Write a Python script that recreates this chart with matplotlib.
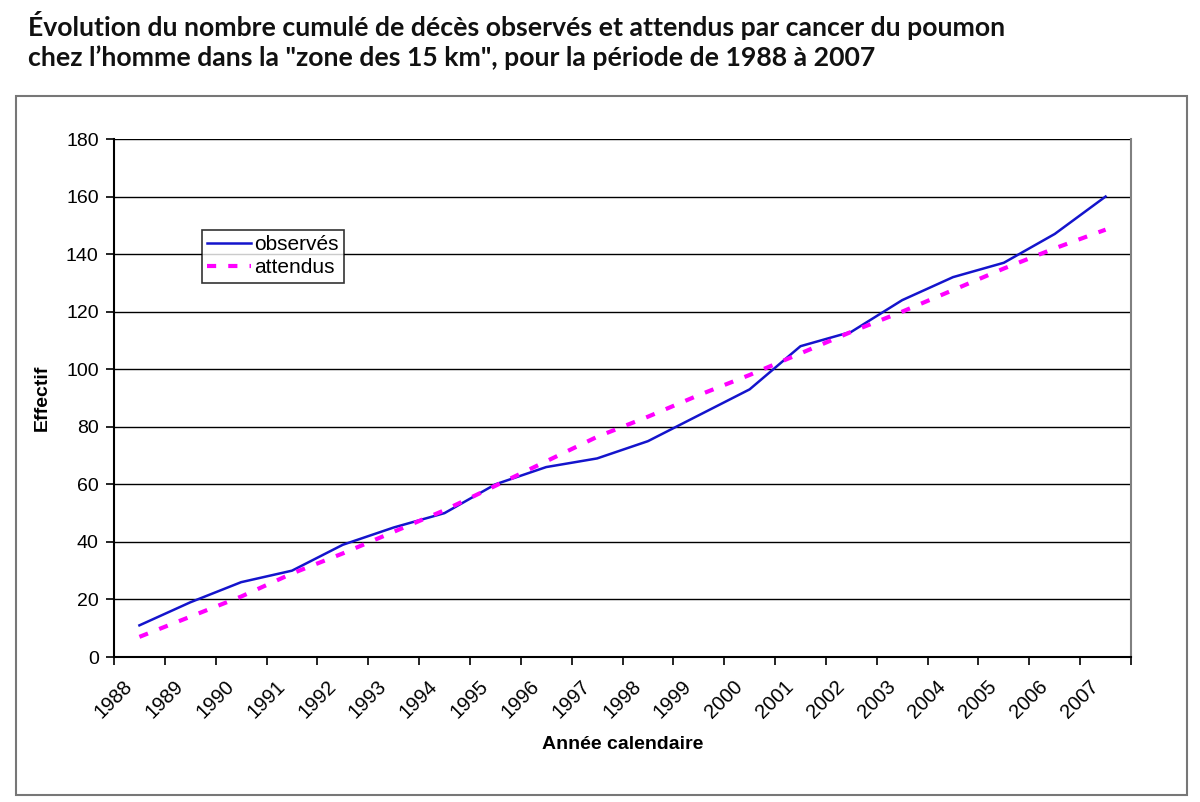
import matplotlib
matplotlib.use("Agg")
import matplotlib.pyplot as plt
from matplotlib.patches import Rectangle
from matplotlib.transforms import ScaledTranslation
import numpy as np

# Données
annees = [str(a) for a in range(1988, 2008)]
observes = [11, 19, 26, 30, 39, 45, 50, 60, 66, 69,
            75, 84, 93, 108, 113, 124, 132, 137, 147, 160]
attendus = [7, 14, 21, 29, 36, 43.5, 51, 59.5, 68, 76.5,
            83.5, 91, 98, 105.5, 113, 120, 127.5, 135, 142, 148.5]
graduations_y = list(range(0, 181, 20))

titre = ("Évolution du nombre cumulé de décès observés et attendus par cancer du poumon\n"
         "chez l’homme dans la \"zone des 15 km\", pour la période de 1988 à 2007")

plt.rcParams['font.family'] = ['Liberation Sans', 'DejaVu Sans']

fig = plt.figure(figsize=(12, 8.02), dpi=100)
ax = fig.add_axes([114/1200, 1 - 657/802, 1017/1200, 518/802])

x = np.arange(len(annees))
ax.plot(x, observes, color='#1414CC', lw=1.8, label='observés')
ax.plot(x, attendus, color='#FF00FF', lw=3, dashes=(2.2, 2.9), label='attendus')

ax.set_xlim(-0.5, len(annees) - 0.5)
ax.set_ylim(0, 180)
ax.set_yticks(graduations_y)
ax.yaxis.grid(True, color='black', lw=1)
ax.set_axisbelow(True)

# graduations entre les catégories, étiquettes au centre
ax.set_xticks(x)
ax.set_xticklabels(annees, rotation=45, ha='right', rotation_mode='anchor', va='center')
ax.set_xticks(np.arange(len(annees) + 1) - 0.5, minor=True)
ax.tick_params(axis='x', which='major', length=0, pad=19, labelsize=14.5)
ax.tick_params(axis='x', which='minor', length=6, width=1.2, direction='out')
ax.tick_params(axis='y', length=6, width=1.2, labelsize=14, pad=5)
decal = ScaledTranslation(-0.10, 0, fig.dpi_scale_trans)
for lab in ax.get_xticklabels():
    lab.set_transform(lab.get_transform() + decal)

for s in ['left', 'bottom']:
    ax.spines[s].set_linewidth(1.5)
    ax.spines[s].set_color('black')
ax.spines['top'].set_visible(False)
ax.spines['right'].set_color('#808080')
ax.spines['right'].set_linewidth(1.5)

ax.set_xlabel('Année calendaire', fontsize=14, fontweight='bold', labelpad=10)
ax.set_ylabel('Effectif', fontsize=14, fontweight='bold', labelpad=11)

leg = ax.legend(loc='upper left', bbox_to_anchor=(202/1200, 1 - 230/802),
                bbox_transform=fig.transFigure, fontsize=15, frameon=True,
                fancybox=False, handlelength=2.1, handletextpad=0.15,
                borderpad=0.25, labelspacing=0.2, borderaxespad=0)
leg.get_frame().set_edgecolor('black')
leg.get_frame().set_linewidth(1.2)

# cadre extérieur du graphique
fig.patches.append(Rectangle((16/1200, 1 - 795/802), 1171/1200, 699/802,
                             transform=fig.transFigure, fill=False,
                             edgecolor='#777777', lw=1.5))

fig.text(28/1200, 1 - 11/802, titre, fontsize=19.2, fontweight='bold',
         family=['Lato', 'DejaVu Sans'], va='top', ha='left', linespacing=1.25,
         color='#111111')

fig.savefig('out.png', dpi=100)
